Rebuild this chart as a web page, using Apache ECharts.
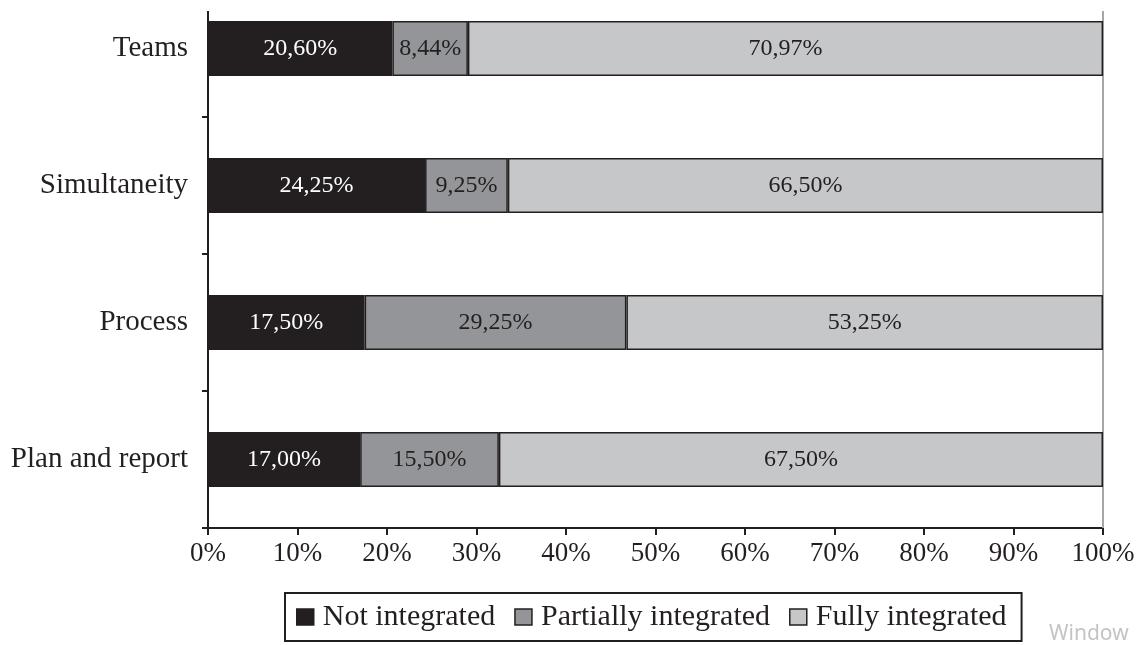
<!DOCTYPE html>
<html>
<head>
<meta charset="utf-8">
<script src="https://cdn.jsdelivr.net/npm/echarts@6/dist/echarts.min.js"></script>
<style>
html,body{margin:0;padding:0;background:#fff;}
#chart{width:1141px;height:645px;}
</style>
</head>
<body>
<div id="chart"></div>
<script>
const categories = ['Teams', 'Simultaneity', 'Process', 'Plan and report'];
const notIntegrated = [20.60, 24.25, 17.50, 17.00];
const partiallyIntegrated = [8.44, 9.25, 29.25, 15.50];
const fullyIntegrated = [70.97, 66.50, 53.25, 67.50];
const seriesNames = ['Not integrated', 'Partially integrated', 'Fully integrated'];
const xTicks = [0, 10, 20, 30, 40, 50, 60, 70, 80, 90, 100];

const FONT = '"Liberation Serif", "DejaVu Serif", serif';
const INK = '#231f20';
const colors = ['#231f20', '#939598', '#c6c7c9'];
const labelColors = ['#ffffff', '#231f20', '#231f20'];

const fmt = p => p.value.toFixed(2).replace('.', ',') + '%';

function makeSeries(name, data, i) {
  const s = {
    name: name,
    type: 'bar',
    stack: 'total',
    data: data,
    barWidth: 55,
    itemStyle: { color: colors[i], borderColor: INK, borderWidth: 1.5 },
    label: {
      show: true,
      position: 'inside',
      formatter: fmt,
      color: labelColors[i],
      fontFamily: FONT,
      fontSize: 24
    },
    emphasis: { disabled: true }
  };
  if (i === 2) {
    s.markLine = {
      silent: true,
      symbol: 'none',
      label: { show: false },
      lineStyle: { color: '#a6a6a6', width: 2, type: 'solid' },
      data: [{ xAxis: xTicks[xTicks.length - 1] }],
      z: 1
    };
  }
  return s;
}

const chart = echarts.init(document.getElementById('chart'), null, { renderer: 'canvas' });
chart.setOption({
  animation: false,
  backgroundColor: '#ffffff',
  grid: { left: 208, width: 895, top: -20, height: 548, containLabel: false, outerBoundsMode: 'none' },
  legend: {
    data: seriesNames,
    left: 285,
    top: 593,
    orient: 'horizontal',
    padding: [9, 15, 9, 11],
    itemGap: 19,
    itemWidth: 17,
    itemHeight: 16,
    borderColor: INK,
    borderWidth: 2,
    icon: 'rect',
    itemStyle: { borderColor: INK, borderWidth: 1.5 },
    textStyle: { fontFamily: FONT, fontSize: 30, color: INK, padding: [0, 0, 0, 4] }
  },
  xAxis: {
    type: 'value',
    min: xTicks[0],
    max: xTicks[xTicks.length - 1],
    interval: 10,
    axisLine: { show: true, lineStyle: { color: INK, width: 2 } },
    axisTick: { show: true, length: 7, lineStyle: { color: INK, width: 2 } },
    axisLabel: { formatter: '{value}%', fontFamily: FONT, fontSize: 27, color: INK, margin: 12 },
    splitLine: { show: false }
  },
  yAxis: {
    type: 'category',
    data: categories,
    inverse: true,
    axisLine: { show: true, lineStyle: { color: INK, width: 2 } },
    axisTick: { show: true, length: 6, lineStyle: { color: INK, width: 2 } },
    axisLabel: { fontFamily: FONT, fontSize: 29, color: INK, margin: 20 }
  },
  series: [
    makeSeries(seriesNames[0], notIntegrated, 0),
    makeSeries(seriesNames[1], partiallyIntegrated, 1),
    makeSeries(seriesNames[2], fullyIntegrated, 2)
  ],
  graphic: [
    { type: 'rect', left: 0, top: 0, z: 100, shape: { width: 1141, height: 11 }, style: { fill: '#ffffff' } },
    { type: 'text', left: 1049, top: 624, z: 100, style: { text: 'Window', fill: '#c4c4c4', font: '21px "Noto Sans", sans-serif' } }
  ]
});
</script>
</body>
</html>
